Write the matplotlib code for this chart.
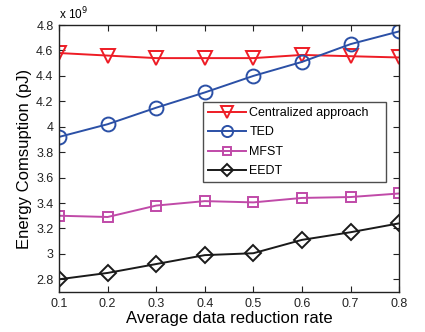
import numpy as np
import matplotlib.pyplot as plt

plt.rcParams['font.family'] = ['Liberation Sans', 'DejaVu Sans']

rate = [0.1, 0.2, 0.3, 0.4, 0.5, 0.6, 0.7, 0.8]
centralized = [4.58, 4.56, 4.54, 4.54, 4.54, 4.565, 4.555, 4.545]
ted = [3.92, 4.02, 4.15, 4.27, 4.40, 4.51, 4.65, 4.75]
mfst = [3.30, 3.29, 3.38, 3.415, 3.405, 3.44, 3.447, 3.475]
eedt = [2.80, 2.85, 2.92, 2.99, 3.005, 3.11, 3.17, 3.24]

fig = plt.figure(figsize=(4.25, 3.32), dpi=100)
ax = fig.add_axes([0.139, 0.1205, 0.8, 0.804])

ax.plot(rate, centralized, color='#ee1c25', marker='v', ms=10, mfc='none', mew=1.4, lw=1.4,
        label='Centralized approach')
ax.plot(rate, ted, color='#2b50a6', marker='o', ms=10, mfc='none', mew=1.4, lw=1.4, label='TED')
ax.plot(rate, mfst, color='#c04aa8', marker='s', ms=7, mfc='none', mew=1.4, lw=1.4, label='MFST')
ax.plot(rate, eedt, color='#1a1a1a', marker='D', ms=8, mfc='none', mew=1.4, lw=1.4, label='EEDT')

ax.set_xlim(0.1, 0.8)
ax.set_ylim(2.7, 4.8)
ax.set_xticks(rate)
ax.set_xticklabels(['0.1', '0.2', '0.3', '0.4', '0.5', '0.6', '0.7', '0.8'])
ax.set_yticks([2.8, 3.0, 3.2, 3.4, 3.6, 3.8, 4.0, 4.2, 4.4, 4.6, 4.8])
ax.set_yticklabels(['2.8', '3', '3.2', '3.4', '3.6', '3.8', '4', '4.2', '4.4', '4.6', '4.8'])
ax.tick_params(direction='in', top=True, right=True, labelsize=9, colors='#222222', length=4, pad=4)
for s in ax.spines.values():
    s.set_linewidth(1.0)
    s.set_color('#222222')

ax.set_xlabel('Average data reduction rate', fontsize=12, labelpad=1)
ax.set_ylabel('Energy Comsuption (pJ)', fontsize=12, labelpad=3)
ax.text(0.0, 1.01, r'x 10$^9$', transform=ax.transAxes, fontsize=8.5, va='bottom', ha='left')

leg = ax.legend(loc='upper left', bbox_to_anchor=(0.424, 0.412, 0.538, 0.3), mode='expand',
                fontsize=9, frameon=True, fancybox=False, edgecolor='#222222', borderpad=0.4,
                labelspacing=0.6, handlelength=3.0, handletextpad=0.3, borderaxespad=0,
                markerscale=0.8)
leg.get_frame().set_linewidth(1.0)

fig.savefig('out.png', dpi=100)
